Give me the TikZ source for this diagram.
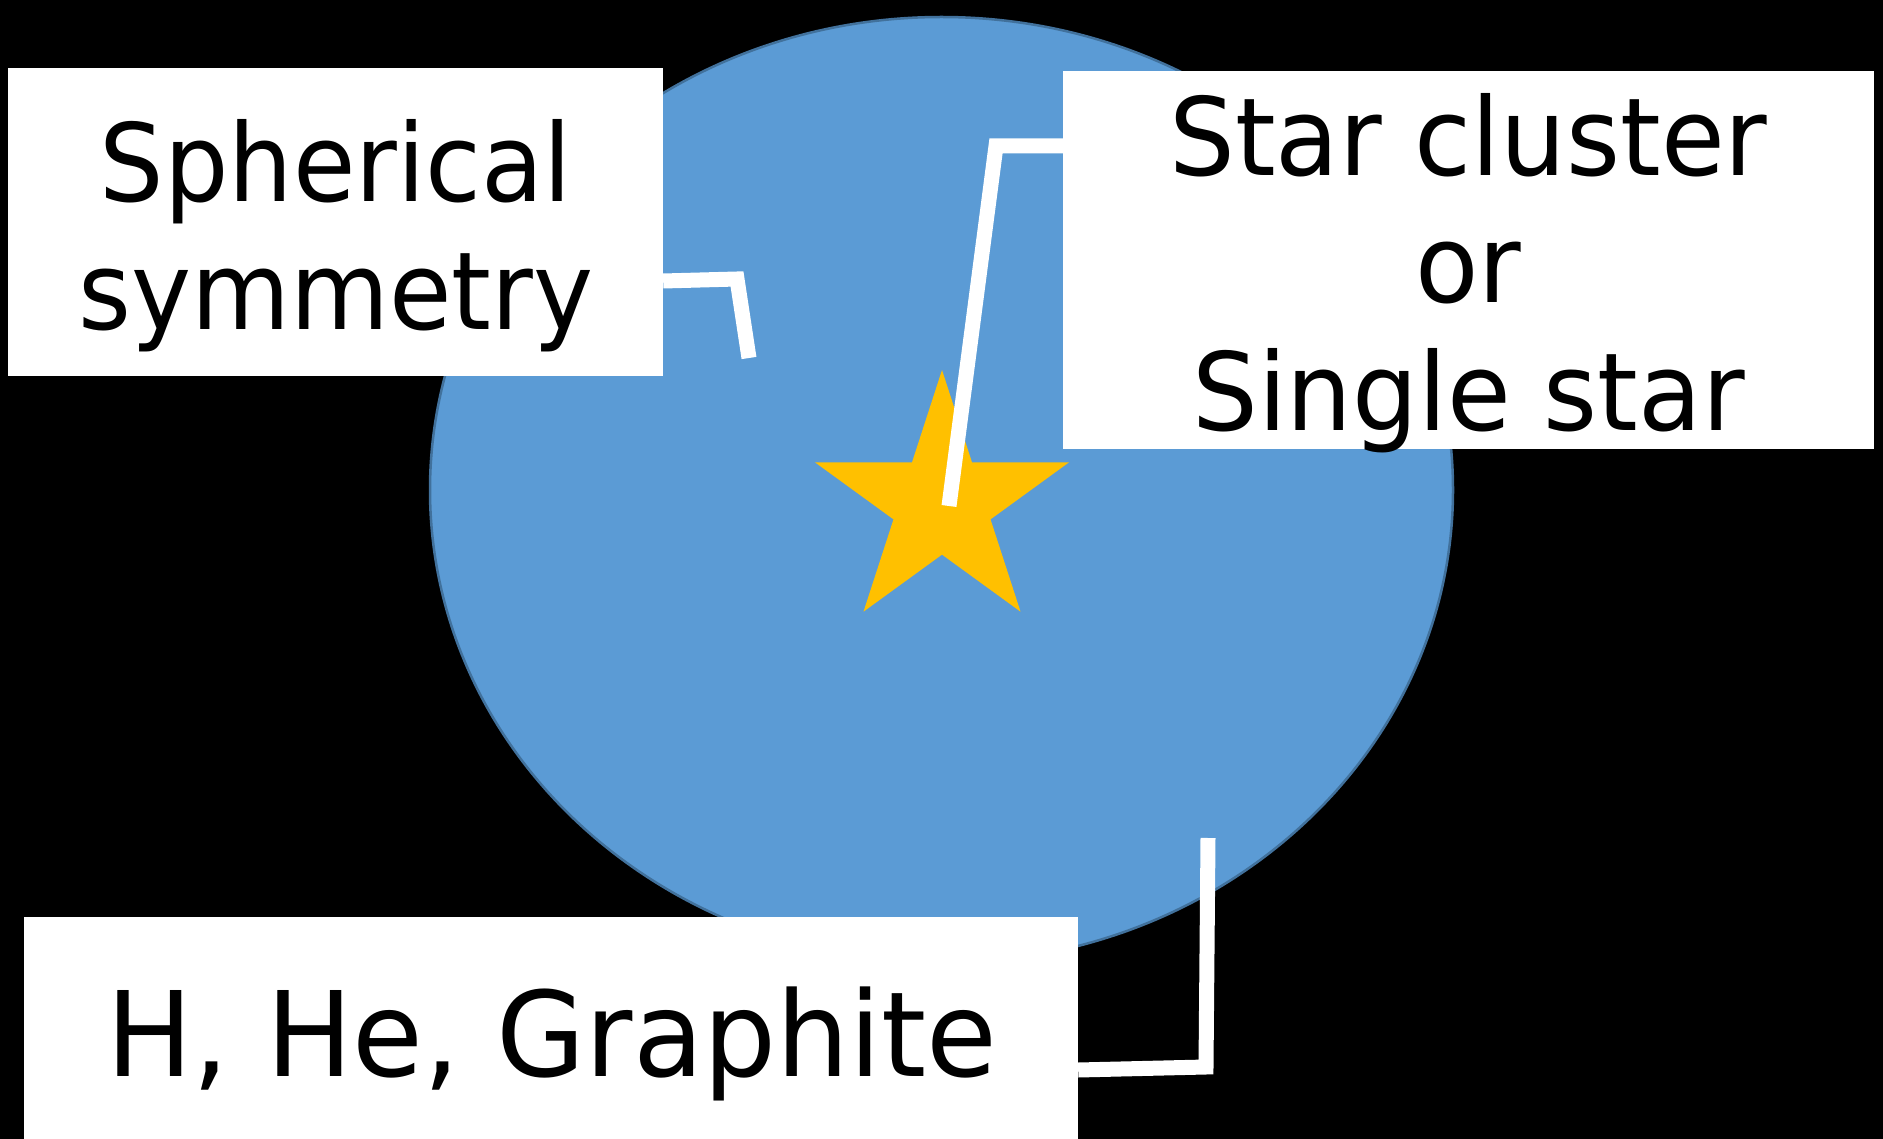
\documentclass[tikz,border=0pt]{standalone}
\usepackage{fontspec}
\setmainfont{DejaVu Sans}[FakeStretch=0.96]
\usetikzlibrary{shapes.geometric,calc}
\definecolor{nebula}{HTML}{5B9BD5}
\definecolor{nebulaedge}{HTML}{41719C}
\definecolor{stargold}{HTML}{FFC000}
\tikzset{
  labelbox/.style={fill=white, draw=none, inner sep=0pt},
  labeltext/.style={anchor=base, inner sep=0pt, text=black,
    font=\fontsize{108}{127}\selectfont},
  bigtext/.style={labeltext, font=\fontsize{118}{138}\selectfont},
  callout/.style={draw=white, line width=15pt, miter limit=20, line join=miter},
}
\begin{document}
\begin{tikzpicture}[x=1pt, y=-1pt]
  % canvas
  \fill[black] (0,0) rectangle (1883,1139);
  \useasboundingbox (0,0) rectangle (1883,1139);

  % gas cloud and central star
  \node[ellipse, draw=nebulaedge, line width=2.5pt, fill=nebula,
        minimum width=1023pt, minimum height=946pt, inner sep=0pt]
        (cloud) at (941.5,490) {};
  \node[star, star points=5, star point ratio=2.618, fill=stargold,
        minimum size=267.2pt, inner sep=0pt] (star) at (942,503.6) {};

  % label boxes
  \node[labelbox, minimum width=655pt, minimum height=308pt] (sym) at (335.5,222) {};
  \node[labelbox, minimum width=811pt, minimum height=378pt] (src) at (1468.5,260) {};
  \node[labelbox, minimum width=1054pt, minimum height=240pt] (dust) at (551,1037) {};

  % label texts
  \node[labeltext] (symA) at (336,201.7) {\scalebox{0.98}[1]{Spherical}};
  \node[labeltext] (symB) at (336,329.3) {\scalebox{0.98}[1]{symmetry}};
  \node[labeltext] (srcA) at (1468.5,175.7) {Star cluster};
  \node[labeltext] (srcB) at (1468.5,303) {or};
  \node[labeltext] (srcC) at (1468.5,430.7) {Single star};
  \node[bigtext] (dustA) at (552,1076) {\scalebox{1.016}[1]{H, He, Graphite}};

  % callout ends and bends
  \coordinate (symBend) at (737,279);
  \coordinate (symEnd) at (749,358);
  \coordinate (srcBend) at (996,146);
  \coordinate (srcEnd) at (949,506);
  \coordinate (dustBend) at (1206,1067);
  \coordinate (dustEnd) at (1208,838);

  % callout lines
  \draw[callout] (sym.east |- 0,281) -- (symBend) -- (symEnd);
  \draw[callout] (src.west |- 0,146) -- (srcBend) -- (srcEnd);
  \draw[callout] (dust.east |- 0,1070) -- (dustBend) -- (dustEnd);
\end{tikzpicture}
\end{document}
